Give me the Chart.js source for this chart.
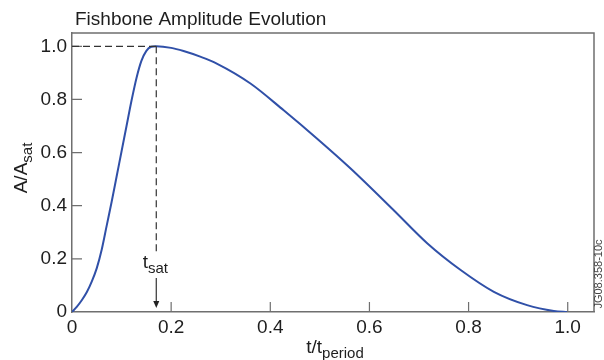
<!DOCTYPE html>
<html>
<head>
<meta charset="utf-8">
<script src="https://cdn.jsdelivr.net/npm/chart.js@4.4.1/dist/chart.umd.min.js"></script>
<style>
  html, body { margin: 0; padding: 0; background: #fff; }
  #wrap { width: 604px; height: 360px; position: relative; }
</style>
</head>
<body>
<div id="wrap"><canvas id="fishbone"></canvas></div>
<script>
// t / t_period and A / A_sat
var tValues = [0, 0.01, 0.02, 0.03, 0.04, 0.05, 0.06, 0.07, 0.08, 0.09, 0.1, 0.11, 0.12, 0.13, 0.14, 0.15, 0.16, 0.17,
               0.2, 0.225, 0.26, 0.292, 0.36, 0.427, 0.494, 0.562, 0.649, 0.717, 0.784, 0.851, 0.918, 0.972, 1.0];
var ampValues = [0, 0.02, 0.045, 0.075, 0.115, 0.165, 0.235, 0.325, 0.415, 0.51, 0.605, 0.7, 0.795, 0.88, 0.945, 0.983, 0.998, 1.0,
                 0.994, 0.982, 0.96, 0.935, 0.86, 0.759, 0.653, 0.54, 0.383, 0.258, 0.158, 0.076, 0.026, 0.004, 0];
var xTicks = [0, 0.2, 0.4, 0.6, 0.8, 1.0];
var yTicks = [0, 0.2, 0.4, 0.6, 0.8, 1.0];
var tSat = 0.17;

var FONT = '"Liberation Sans", Arial, Helvetica, sans-serif';
var TEXT = '#1e1e1e';
var AXIS = '#6f6f6f';

function fmt(v) {
    return v === 0 ? '0' : v.toFixed(1);
}

// text with a subscript, starting at x
function subText(ctx, main, sub, x, y, size, subSize, drop) {
    ctx.font = size + 'px ' + FONT;
    ctx.fillText(main, x, y);
    var w = ctx.measureText(main).width;
    ctx.font = subSize + 'px ' + FONT;
    ctx.fillText(sub, x + w, y + drop);
}
function subWidth(ctx, main, sub, size, subSize) {
    ctx.font = size + 'px ' + FONT;
    var w = ctx.measureText(main).width;
    ctx.font = subSize + 'px ' + FONT;
    return w + ctx.measureText(sub).width;
}

var decorations = {
    id: 'decorations',
    afterDraw: function (chart) {
        var ctx = chart.ctx;
        var a = chart.chartArea;
        var xs = chart.scales.x;
        var ys = chart.scales.y;
        ctx.save();

        // box top & right
        ctx.strokeStyle = AXIS;
        ctx.lineWidth = 1.5;
        ctx.beginPath();
        ctx.moveTo(a.left, a.top);
        ctx.lineTo(a.right, a.top);
        ctx.lineTo(a.right, a.bottom);
        ctx.stroke();

        // inward ticks
        ctx.lineWidth = 1.2;
        ctx.beginPath();
        xTicks.forEach(function (v) {
            if (v === 0) return;
            var px = xs.getPixelForValue(v);
            ctx.moveTo(px, a.bottom);
            ctx.lineTo(px, a.bottom - 10);
        });
        yTicks.forEach(function (v) {
            if (v === 0) return;
            var py = ys.getPixelForValue(v);
            ctx.moveTo(a.left, py);
            ctx.lineTo(a.left + 10, py);
        });
        ctx.stroke();

        // dashed guide lines to saturation point
        var sx = xs.getPixelForValue(tSat);
        var sy = ys.getPixelForValue(1.0);
        ctx.strokeStyle = '#333';
        ctx.lineWidth = 1.2;
        ctx.setLineDash([7, 4]);
        ctx.beginPath();
        ctx.moveTo(a.left, sy);
        ctx.lineTo(sx, sy);
        ctx.moveTo(sx, sy);
        ctx.lineTo(sx, a.bottom - 60);
        ctx.stroke();
        ctx.setLineDash([]);

        // arrow
        ctx.beginPath();
        ctx.moveTo(sx, a.bottom - 34);
        ctx.lineTo(sx, a.bottom - 8);
        ctx.stroke();
        ctx.fillStyle = '#222';
        ctx.beginPath();
        ctx.moveTo(sx, a.bottom - 4);
        ctx.lineTo(sx - 3, a.bottom - 11);
        ctx.lineTo(sx + 3, a.bottom - 11);
        ctx.closePath();
        ctx.fill();

        // t_sat label
        ctx.fillStyle = TEXT;
        ctx.textBaseline = 'alphabetic';
        ctx.textAlign = 'left';
        var w = subWidth(ctx, 't', 'sat', 19, 15);
        subText(ctx, 't', 'sat', sx - w / 2 - 1, a.bottom - 44, 19, 15, 5);

        // title
        ctx.font = '19px ' + FONT;
        ctx.fillText('Fishbone Amplitude Evolution', 75, 25);

        // x axis title
        var xw = subWidth(ctx, 't/t', 'period', 19, 15);
        subText(ctx, 't/t', 'period', 335 - xw / 2, 353, 19, 15, 5);

        // y axis title
        ctx.save();
        ctx.translate(27, 168);
        ctx.rotate(-Math.PI / 2);
        var yw = subWidth(ctx, 'A/A', 'sat', 19, 15);
        subText(ctx, 'A/A', 'sat', -yw / 2, 0, 19, 15, 5);
        ctx.restore();

        // figure id on right edge
        ctx.save();
        ctx.translate(602, 274);
        ctx.rotate(-Math.PI / 2);
        ctx.font = '11px ' + FONT;
        ctx.fillStyle = '#444';
        ctx.textAlign = 'center';
        ctx.fillText('JG08.358-10c', 0, 0);
        ctx.restore();

        ctx.restore();
    }
};

var points = tValues.map(function (t, i) {
    return { x: t, y: ampValues[i] };
});

var chart = new Chart(document.getElementById('fishbone'), {
    type: 'line',
    data: {
        datasets: [{
            data: points,
            borderColor: '#3050a8',
            borderWidth: 2,
            pointRadius: 0,
            fill: false,
            cubicInterpolationMode: 'monotone'
        }]
    },
    options: {
        responsive: true,
        maintainAspectRatio: false,
        animation: false,
        layout: { padding: { left: 0, right: 10, top: 33, bottom: 0 } },
        plugins: {
            legend: { display: false },
            tooltip: { enabled: false },
            title: { display: false }
        },
        scales: {
            x: {
                type: 'linear',
                min: 0,
                max: 1.053,
                grid: { display: false },
                border: { display: true, color: AXIS, width: 1.5 },
                afterBuildTicks: function (scale) {
                    scale.ticks = xTicks.map(function (v) { return { value: v }; });
                },
                afterFit: function (scale) { scale.height = 48; },
                ticks: {
                    padding: -4,
                    color: TEXT,
                    font: { family: FONT, size: 19 },
                    maxRotation: 0,
                    callback: function (v) { return fmt(v); }
                }
            },
            y: {
                type: 'linear',
                min: 0,
                max: 1.05,
                grid: { display: false },
                border: { display: true, color: AXIS, width: 1.5 },
                afterBuildTicks: function (scale) {
                    scale.ticks = yTicks.map(function (v) { return { value: v }; });
                },
                afterFit: function (scale) { scale.width = 72; },
                ticks: {
                    padding: -3,
                    color: TEXT,
                    font: { family: FONT, size: 19 },
                    callback: function (v) { return fmt(v); }
                }
            }
        }
    },
    plugins: [decorations]
});
</script>
</body>
</html>
